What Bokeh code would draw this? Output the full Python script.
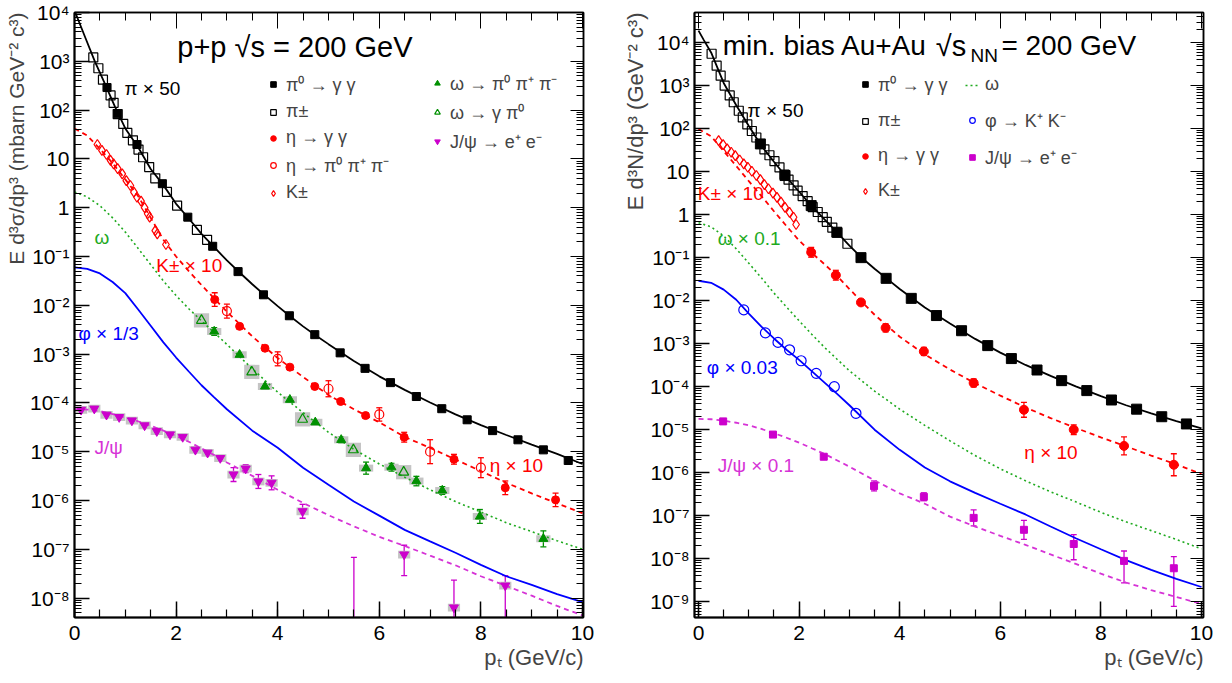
import numpy as np
from bokeh.plotting import figure
from bokeh.models import (Range1d, FixedTicker, CustomJSTickFormatter, LinearAxis, LogAxis,
                          Label, Legend, LegendItem, Whisker, TeeHead, ColumnDataSource, Title)
from bokeh.layouts import row
from bokeh.embed import file_html
from bokeh.resources import INLINE

FONT = "Liberation Sans"

# ---------------- common pT grid for fit curves ----------------
grid_pt = [0, 0.25, 0.5, 0.75, 1.0, 1.25, 1.5, 1.75, 2.0, 2.25, 2.5, 2.75, 3.0,
           3.5, 4.0, 4.5, 5.0, 5.5, 6.0, 6.5, 7.0, 7.5, 8.0, 8.5, 9.0, 9.5, 10.0]

# ================= p+p =================
pp_pi_fit_pt = [0, 0.2, 0.4, 0.6, 0.8, 1.0, 1.25, 1.5, 1.75, 2.0, 2.25, 2.5, 2.75, 3.0, 3.25,
                3.5, 3.75, 4.0, 4.25, 4.5, 4.75, 5.0, 5.5, 6.0, 6.5, 7.0, 7.5, 8.0, 8.5, 9.0, 9.5, 10.0]
pp_pi_fit_y = [1.1e4, 3.3e3, 1.0e3, 345, 115, 42, 17.5, 6.2, 2.9, 1.2, 0.6, 0.29, 0.155, 0.083, 0.047,
               0.027, 0.016, 9.6e-3, 5.9e-3, 3.7e-3, 2.4e-3, 1.6e-3, 7.2e-4, 3.5e-4, 1.85e-4, 1.02e-4,
               5.8e-5, 3.5e-5, 2.2e-5, 1.4e-5, 9.0e-6, 5.6e-6]
pp_eta_fit_y = [42, 30, 16, 8.2, 3.8, 1.75, 0.62, 0.22, 0.10, 0.05, 0.026, 0.0138, 7.4e-3,
                2.3e-3, 8.3e-4, 3.4e-4, 1.45e-4, 7.4e-5, 4.0e-5, 2.0e-5, 1.2e-5, 6.9e-6, 4.0e-6,
                2.3e-6, 1.4e-6, 8.7e-7, 5.5e-7]
pp_omega_fit_y = [2.1, 1.66, 1.1, 0.62, 0.316, 0.148, 0.068, 0.0316, 0.0158, 8.5e-3, 4.8e-3, 2.75e-3,
                  1.58e-3, 5.0e-4, 1.66e-4, 6.3e-5, 2.5e-5, 1.12e-5, 5.6e-6, 3.0e-6, 1.66e-6, 9.5e-7,
                  5.8e-7, 3.5e-7, 2.3e-7, 1.5e-7, 1.0e-7]
pp_phi_fit_y = [0.060, 0.056, 0.045, 0.030, 0.0178, 8.3e-3, 3.8e-3, 1.74e-3, 8.5e-4, 4.4e-4, 2.3e-4,
                1.3e-4, 7.4e-5, 2.7e-5, 1.2e-5, 4.7e-6, 2.1e-6, 9.5e-7, 4.9e-7, 2.5e-7, 1.45e-7,
                8.5e-8, 4.8e-8, 2.8e-8, 1.86e-8, 1.2e-8, 8.3e-9]
pp_jpsi_fit_y = [7.4e-5, 7.3e-5, 6.8e-5, 5.9e-5, 5.0e-5, 4.2e-5, 3.4e-5, 2.7e-5, 2.1e-5, 1.6e-5,
                 1.17e-5, 8.5e-6, 6.0e-6, 3.2e-6, 1.66e-6, 8.9e-7, 5.0e-7, 2.95e-7, 1.8e-7, 1.17e-7,
                 7.4e-8, 4.7e-8, 2.8e-8, 1.78e-8, 1.12e-8, 6.9e-9, 4.4e-9]

pp_pipm_pt = [0.37, 0.47, 0.56, 0.71, 0.77, 0.85, 0.96, 1.04, 1.15, 1.26, 1.35, 1.47, 1.59, 1.82,
              2.02, 2.41, 2.61]
pp_pipm_y = [1200, 720, 420, 200, 141, 83, 52, 34, 24, 15.5, 10.8, 6.8, 4.0, 2.1, 1.1, 0.35, 0.22]

pp_pi0_pt = [0.64, 0.85, 1.23, 1.73, 2.23, 2.72, 3.22, 3.72, 4.23, 4.73, 5.23, 5.72, 6.22, 6.73,
             7.23, 7.73, 8.23, 8.73, 9.23, 9.72]
pp_pi0_y = [290, 84, 19.7, 3.1, 0.64, 0.162, 0.049, 0.0164, 6.1e-3, 2.5e-3, 1.06e-3, 5.1e-4,
            2.6e-4, 1.35e-4, 7.6e-5, 4.5e-5, 2.7e-5, 1.75e-5, 1.09e-5, 6.6e-6]

pp_k_pt = [0.45, 0.54, 0.63, 0.71, 0.77, 0.85, 0.94, 1.02, 1.10, 1.17, 1.23, 1.31, 1.38, 1.44,
           1.48, 1.59, 1.63, 1.80]
pp_k_y = [19.7, 14.9, 12.3, 9.3, 7.9, 6.3, 4.95, 3.6, 2.85, 2.08, 1.64, 1.36, 1.0, 0.75, 0.64,
          0.34, 0.29, 0.176]

pp_eta_gg_pt = [2.76, 3.25, 3.75, 4.24, 4.73, 5.24, 5.73, 6.49, 7.47, 8.48, 9.47]
pp_eta_gg_y = [0.0131, 3.7e-3, 1.32e-3, 5.4e-4, 2.17e-4, 1.07e-4, 5.5e-5, 1.98e-5, 7.0e-6,
               1.82e-6, 1.03e-6]
pp_eta_gg_err = [0.38, 0.12, 0.1, 0.1, 0.1, 0.1, 0.12, 0.26, 0.26, 0.38, 0.38]

pp_eta_3pi_pt = [3.0, 4.0, 5.0, 6.0, 7.0, 8.0]
pp_eta_3pi_y = [7.6e-3, 8.0e-4, 1.95e-4, 5.8e-5, 1.0e-5, 4.7e-6]
pp_eta_3pi_err = [0.39, 0.39, 0.46, 0.37, 0.76, 0.6]

pp_omega_3pi_pt = [2.75, 3.25, 3.75, 4.24, 4.74, 5.25, 5.74, 6.24, 6.73, 7.24, 7.98, 9.23]
pp_omega_3pi_y = [2.9e-3, 9.7e-4, 2.17e-4, 1.16e-4, 4.0e-5, 1.75e-5, 4.6e-6, 4.8e-6, 2.5e-6,
                  1.6e-6, 4.7e-7, 1.64e-7]
pp_omega_3pi_err = [0.2, 0.1, 0.1, 0.1, 0.1, 0.15, 0.33, 0.2, 0.25, 0.2, 0.39, 0.46]

pp_omega_gpi_pt = [2.5, 3.49, 4.49, 5.49, 6.48]
pp_omega_gpi_y = [4.9e-3, 4.3e-4, 4.6e-5, 1.09e-5, 3.8e-6]
pp_omega_gpi_err = [0.2, 0.2, 0.2, 0.25, 0.25]

pp_jpsi_pt = [0.13, 0.39, 0.63, 0.88, 1.13, 1.38, 1.62, 1.88, 2.13, 2.38, 2.62, 2.87, 3.13, 3.37,
              3.62, 3.88, 4.49, 5.5, 6.49, 7.47, 8.48]
pp_jpsi_y = [7.2e-5, 7.6e-5, 5.7e-5, 5.1e-5, 4.35e-5, 3.45e-5, 2.63e-5, 2.25e-5, 2.0e-5, 1.09e-5,
             9.5e-6, 7.4e-6, 3.4e-6, 4.5e-6, 2.45e-6, 2.3e-6, 6.0e-7, 2.0e-9, 7.8e-8, 6.4e-9, 1.8e-8]
pp_jpsi_up = [0.1] * 12 + [0.39, 0.2, 0.39, 0.39, 0.39, 33.0, 0.55, 2.66, 0.6]
pp_jpsi_dn = [0.09] * 12 + [0.28, 0.17, 0.28, 0.28, 0.28, 0.5, 0.63, 0.99, 0.99]

# ================= Au+Au =================
auau_pi_fit_pt = [0, 0.1, 0.25, 0.5, 0.75, 1.0, 1.25, 1.5, 1.75, 2.0, 2.25, 2.5, 2.75, 3.0, 3.25,
                  3.5, 3.75, 4.0, 4.5, 5.0, 5.5, 6.0, 6.5, 7.0, 7.5, 8.0, 8.5, 9.0, 9.5, 10.0]
auau_pi_fit_y = [1.9e4, 1.17e4, 5.9e3, 1.15e3, 350, 115, 40, 17, 7.4, 3.4, 1.58, 0.79, 0.39, 0.19,
                 0.098, 0.055, 0.032, 0.0186, 6.9e-3, 2.95e-3, 1.29e-3, 6.2e-4, 3.2e-4, 1.78e-4,
                 1.02e-4, 6.0e-5, 3.7e-5, 2.4e-5, 1.58e-5, 1.07e-5]
auau_eta_fit_y = [98, 66, 30, 13.5, 6.0, 2.7, 1.2, 0.54, 0.25, 0.129, 0.071, 0.038, 0.0186, 4.7e-3,
                  1.45e-3, 5.6e-4, 2.5e-4, 1.2e-4, 6.2e-5, 3.3e-5, 1.86e-5, 1.1e-5, 6.6e-6, 4.1e-6,
                  2.5e-6, 1.55e-6, 9.3e-7]
auau_omega_fit_y = [0.65, 0.52, 0.32, 0.16, 0.074, 0.034, 0.015, 7.1e-3, 3.4e-3, 1.66e-3, 8.3e-4,
                    4.4e-4, 2.34e-4, 7.9e-5, 3.0e-5, 1.26e-5, 5.5e-6, 2.5e-6, 1.23e-6, 6.5e-7,
                    3.6e-7, 2.1e-7, 1.2e-7, 7.2e-8, 4.5e-8, 2.8e-8, 1.7e-8]
auau_phi_fit_y = [0.029, 0.026, 0.018, 0.0105, 5.0e-3, 2.5e-3, 1.32e-3, 7.2e-4, 4.2e-4, 2.3e-4,
                  1.26e-4, 6.9e-5, 3.7e-5, 1.0e-5, 3.4e-6, 1.32e-6, 6.3e-7, 3.4e-7, 1.9e-7, 1.07e-7,
                  5.6e-8, 3.0e-8, 1.66e-8, 9.3e-9, 5.5e-9, 3.4e-9, 2.2e-9]
auau_jpsi_fit_y = [1.78e-5, 1.75e-5, 1.62e-5, 1.45e-5, 1.26e-5, 1.04e-5, 8.3e-6, 6.5e-6, 5.0e-6,
                   3.7e-6, 2.75e-6, 1.95e-6, 1.38e-6, 6.6e-7, 3.3e-7, 1.9e-7, 9.5e-8, 5.6e-8, 3.4e-8,
                   2.1e-8, 1.26e-8, 7.6e-9, 4.5e-9, 2.8e-9, 1.86e-9, 1.29e-9, 8.9e-10]

auau_pipm_pt = [0.26, 0.36, 0.44, 0.52, 0.62, 0.70, 0.80, 0.88, 0.97, 1.06, 1.15, 1.31, 1.41, 1.51,
                1.61, 1.71, 1.79, 1.89, 1.97, 2.07, 2.17, 2.27, 2.37, 2.47, 2.55, 2.66, 2.76, 2.96]
auau_pipm_y = [5500, 2900, 1700, 1000, 590, 410, 260, 182, 125, 88, 62, 33, 24, 17.5, 12.5, 8.5,
               6.5, 4.8, 3.6, 2.7, 2.05, 1.5, 1.15, 0.87, 0.68, 0.5, 0.38, 0.21]

auau_pi0_pt = [1.23, 1.72, 2.24, 2.75, 3.23, 3.73, 4.23, 4.73, 5.23, 5.75, 6.22, 6.73, 7.22, 7.72,
               8.21, 8.71, 9.21, 9.70]
auau_pi0_y = [44, 8.1, 1.62, 0.39, 0.10, 0.033, 0.0113, 4.5e-3, 2.0e-3, 9.0e-4, 4.5e-4, 2.44e-4,
              1.38e-4, 8.1e-5, 4.9e-5, 3.0e-5, 2.0e-5, 1.36e-5]

auau_k_pt = [0.40, 0.49, 0.57, 0.65, 0.73, 0.82, 0.90, 0.98, 1.06, 1.15, 1.23, 1.31, 1.39, 1.48,
             1.56, 1.64, 1.72, 1.81, 1.89, 1.94]
auau_k_y = [52.6, 42.5, 33.7, 28.2, 23.6, 18.6, 15.1, 12.6, 10.2, 8.1, 6.5, 5.0, 4.0, 3.16, 2.51,
            1.95, 1.48, 1.13, 0.87, 0.59]

auau_eta_pt = [2.24, 2.73, 3.23, 3.72, 4.48, 5.47, 6.47, 7.46, 8.46, 9.45]
auau_eta_y = [0.133, 0.039, 9.1e-3, 2.33e-3, 6.6e-4, 1.22e-4, 2.9e-5, 1.0e-5, 4.2e-6, 1.53e-6]
auau_eta_err = [0.3, 0.3, 0.17, 0.24, 0.24, 0.24, 0.49, 0.3, 0.62, 0.8]

auau_phi_pt = [0.90, 1.33, 1.58, 1.81, 2.04, 2.34, 2.70, 3.13]
auau_phi_y = [6.1e-3, 1.78e-3, 1.07e-3, 7.2e-4, 4.0e-4, 2.04e-4, 1.0e-4, 2.4e-5]

auau_jpsi_pt = [0.49, 1.48, 2.49, 3.49, 4.48, 5.47, 6.47, 7.46, 8.46, 9.45]
auau_jpsi_y = [1.56e-5, 7.7e-6, 2.35e-6, 4.9e-7, 2.75e-7, 8.9e-8, 4.7e-8, 2.2e-8, 8.9e-9, 6.0e-9]
auau_jpsi_up = [0.08, 0.1, 0.12, 0.31, 0.24, 0.53, 0.66, 0.65, 0.7, 0.86]
auau_jpsi_dn = [0.07, 0.09, 0.11, 0.23, 0.19, 0.35, 0.40, 0.57, 0.69, 0.87]

# ---------------- colours ----------------
BLACK = "#000000"
RED = "#ff0000"
GREEN_M = "#009000"
GREEN_L = "#1faa1f"
BLUE = "#0000ff"
MAG = "#cc00cc"
MAG_L = "#d633d6"
GRAY = "#c4c4c4"

LOG_FMT = CustomJSTickFormatter(code="""
const e = Math.round(Math.log10(tick));
if (e === 0) { return "1"; }
if (e === 1) { return "10"; }
const m = {"-":"\u207b","0":"\u2070","1":"\u00b9","2":"\u00b2","3":"\u00b3","4":"\u2074",
           "5":"\u2075","6":"\u2076","7":"\u2077","8":"\u2078","9":"\u2079"};
let s = "";
for (const c of String(e)) { s += m[c]; }
return "10" + s;
""")
EMPTY_FMT = CustomJSTickFormatter(code="return '';")

FIG_H = 680


def make_fig(width, xr, yr, bl, br, ytitle, ytsize):
    p = figure(width=width, height=FIG_H, x_range=Range1d(*xr), y_range=Range1d(*yr),
               y_axis_type="log", output_backend="svg", toolbar_location=None,
               min_border_left=bl, min_border_right=br, min_border_top=12,
               min_border_bottom=FIG_H - 617)
    p.xgrid.visible = False
    p.ygrid.visible = False
    p.outline_line_color = BLACK
    p.outline_line_width = 1.5
    p.background_fill_color = "white"
    p.border_fill_color = "white"
    lo, hi = yr
    dec = list(range(int(np.floor(np.log10(lo))), int(np.ceil(np.log10(hi))) + 1))
    yt = FixedTicker(ticks=[10.0 ** k for k in dec],
                     minor_ticks=[m * 10.0 ** k for k in dec for m in range(2, 10)])
    xt = FixedTicker(ticks=[0, 2, 4, 6, 8, 10],
                     minor_ticks=[i * 0.5 for i in range(0, 21)])
    xa = p.xaxis[0]
    xa.ticker = xt
    ya = p.yaxis[0]
    ya.ticker = yt
    ya.formatter = LOG_FMT
    for ax, maj, mnr in ((xa, 16, 8), (ya, 15, 7)):
        ax.major_tick_in = maj
        ax.major_tick_out = 0
        ax.minor_tick_in = mnr
        ax.minor_tick_out = 0
        ax.axis_line_width = 2
        ax.major_tick_line_width = 1.5
        ax.minor_tick_line_width = 1.2
        ax.major_label_text_font = FONT
        ax.major_label_text_font_size = "21px"
        ax.major_label_text_color = BLACK
    xa.major_label_standoff = 8
    ya.major_label_standoff = 5
    top = LinearAxis(ticker=xt, formatter=EMPTY_FMT, major_tick_in=16, major_tick_out=0,
                     minor_tick_in=8, minor_tick_out=0, major_label_standoff=0,
                     major_label_text_font_size="1px", axis_line_width=1.5)
    right = LogAxis(ticker=yt, formatter=EMPTY_FMT, major_tick_in=13, major_tick_out=0,
                    minor_tick_in=7, minor_tick_out=0, major_label_standoff=0,
                    major_label_text_font_size="1px", axis_line_width=1.5)
    p.add_layout(top, "above")
    p.add_layout(right, "right")
    p.add_layout(Title(text=ytitle, align="right", text_font=FONT, text_font_size=f"{ytsize}px",
                       text_font_style="normal", standoff=0), "left")
    p.add_layout(Title(text="p\u209c (GeV/c)", align="right", text_font=FONT,
                       text_font_size="22px", text_font_style="normal", standoff=0), "below")
    return p


def lab(p, x, y, text, size, color=BLACK, align="left", baseline="middle"):
    p.add_layout(Label(x=x, y=y, text=text, text_font=FONT, text_font_size=f"{size}px",
                       text_color=color, text_align=align, text_baseline=baseline))


def boxes(p, xs, ys, hw, fac, color=GRAY):
    xs = np.asarray(xs, float)
    ys = np.asarray(ys, float)
    p.quad(left=xs - hw, right=xs + hw, bottom=ys / fac, top=ys * fac,
           fill_color=color, line_color=None)


def errs(p, xs, ys, up, dn, color):
    xs = np.asarray(xs, float)
    ys = np.asarray(ys, float)
    up = np.asarray(up, float)
    dn = np.asarray(dn, float)
    src = ColumnDataSource(dict(x=xs, hi=ys * (1 + up), lo=ys * (1 - dn)))
    w = Whisker(source=src, base="x", upper="hi", lower="lo", dimension="height",
                line_color=color, line_width=1.3,
                upper_head=TeeHead(size=6, line_color=color, line_width=1.3),
                lower_head=TeeHead(size=6, line_color=color, line_width=1.3))
    p.add_layout(w)


def sym(e):
    e = np.asarray(e, float)
    return e, 1 - 1 / (1 + e)


def legend(p, items, loc, spacing):
    lg = Legend(items=items, location=loc, orientation="vertical",
                background_fill_alpha=0, border_line_alpha=0,
                label_text_font=FONT, label_text_font_size="18px",
                glyph_width=14, glyph_height=14, label_height=14, label_standoff=6,
                spacing=spacing, padding=0, margin=0)
    p.add_layout(lg)


# =================== LEFT PANEL ===================
p1 = make_fig(620, (0, 10.02), (4e-9, 1e4), 74, 37, "E d³σ/dp³ (mbarn GeV⁻² c³)", 21)


def lx(px):
    return (px - 74) / 50.9


def ly(py):
    return 10 ** (4 - (py - 12) / 48.8)


boxes(p1, pp_pi0_pt, pp_pi0_y, 0.09, 1.22)
boxes(p1, pp_omega_3pi_pt, pp_omega_3pi_y, 0.14, 1.18)
boxes(p1, pp_omega_gpi_pt, pp_omega_gpi_y, 0.15, 1.4)
jb = [i for i in range(len(pp_jpsi_pt)) if pp_jpsi_y[i] > 4e-9]
boxes(p1, [pp_jpsi_pt[i] for i in jb], [pp_jpsi_y[i] for i in jb], 0.12, 1.2)

p1.line(pp_pi_fit_pt, pp_pi_fit_y, line_color=BLACK, line_width=1.8)
p1.line(grid_pt, pp_eta_fit_y, line_color=RED, line_width=1.8, line_dash="5 4")
p1.line(grid_pt, pp_omega_fit_y, line_color=GREEN_L, line_width=1.6, line_dash="2 3")
p1.line(grid_pt, pp_phi_fit_y, line_color=BLUE, line_width=1.8)
p1.line(grid_pt, pp_jpsi_fit_y, line_color=MAG_L, line_width=1.8, line_dash="5 4")

errs(p1, pp_eta_gg_pt, pp_eta_gg_y, *sym(pp_eta_gg_err), RED)
errs(p1, pp_eta_3pi_pt, pp_eta_3pi_y, *sym(pp_eta_3pi_err), RED)
errs(p1, pp_omega_3pi_pt, pp_omega_3pi_y, *sym(pp_omega_3pi_err), GREEN_M)
errs(p1, pp_omega_gpi_pt, pp_omega_gpi_y, *sym(pp_omega_gpi_err), GREEN_M)
errs(p1, pp_jpsi_pt, pp_jpsi_y, pp_jpsi_up, pp_jpsi_dn, MAG)

r_pi0 = p1.scatter(pp_pi0_pt, pp_pi0_y, marker="square", size=8, fill_color=BLACK, line_color=BLACK)
r_pipm = p1.scatter(pp_pipm_pt, pp_pipm_y, marker="square", size=9, fill_alpha=0,
                    line_color=BLACK, line_width=1.2)
r_eta = p1.scatter(pp_eta_gg_pt, pp_eta_gg_y, marker="circle", size=8, fill_color=RED, line_color=RED)
r_eta3 = p1.scatter(pp_eta_3pi_pt, pp_eta_3pi_y, marker="circle", size=9, fill_alpha=0,
                    line_color=RED, line_width=1.2)
r_k = p1.scatter(pp_k_pt, pp_k_y, marker="diamond", size=10, fill_alpha=0, line_color=RED, line_width=1.2)
r_om3 = p1.scatter(pp_omega_3pi_pt, pp_omega_3pi_y, marker="triangle", size=9,
                   fill_color=GREEN_M, line_color=GREEN_M)
r_omg = p1.scatter(pp_omega_gpi_pt, pp_omega_gpi_y, marker="triangle", size=10, fill_alpha=0,
                   line_color=GREEN_M, line_width=1.2)
r_jp = p1.scatter(pp_jpsi_pt, pp_jpsi_y, marker="inverted_triangle", size=9,
                  fill_color=MAG, line_color=MAG)

legend(p1, [LegendItem(label="π⁰ → γ γ", renderers=[r_pi0]),
            LegendItem(label="π±", renderers=[r_pipm]),
            LegendItem(label="η → γ γ", renderers=[r_eta]),
            LegendItem(label="η → π⁰ π⁺ π⁻", renderers=[r_eta3]),
            LegendItem(label="K±", renderers=[r_k])], (192, 414), 5)
legend(p1, [LegendItem(label="ω → π⁰ π⁺ π⁻", renderers=[r_om3]),
            LegendItem(label="ω → γ π⁰", renderers=[r_omg]),
            LegendItem(label="J/ψ → e⁺ e⁻", renderers=[r_jp])], (356, 464), 5)

lab(p1, lx(177), ly(47), "p+p  √s = 200 GeV", 29)
lab(p1, lx(124), ly(88), "π × 50", 19)
lab(p1, lx(156), ly(265), "K± × 10", 19, RED)
lab(p1, lx(94), ly(237), "ω", 19, GREEN_L)
lab(p1, lx(78), ly(333), "φ × 1/3", 19, BLUE)
lab(p1, lx(94), ly(447), "J/ψ", 19, MAG_L)
lab(p1, lx(490), ly(465), "η × 10", 19, RED)

# =================== RIGHT PANEL ===================
p2 = make_fig(604, (-0.08, 10.04), (4.3e-10, 5e4), 72, 21, "E d³N/dp³ (GeV⁻² c³)", 22)


def rx(px):
    return (px - 695.7) / 50.53


def ry(py):
    return 10 ** (4 - (py - 42) / 43)


p2.line(auau_pi_fit_pt, auau_pi_fit_y, line_color=BLACK, line_width=1.8)
p2.line(grid_pt, auau_eta_fit_y, line_color=RED, line_width=1.8, line_dash="5 4")
r_omline = p2.line(grid_pt, auau_omega_fit_y, line_color=GREEN_L, line_width=1.6, line_dash="2 3")
p2.line(grid_pt, auau_phi_fit_y, line_color=BLUE, line_width=1.8)
p2.line(grid_pt, auau_jpsi_fit_y, line_color=MAG_L, line_width=1.8, line_dash="5 4")

errs(p2, auau_eta_pt, auau_eta_y, *sym(auau_eta_err), RED)
errs(p2, auau_jpsi_pt, auau_jpsi_y, auau_jpsi_up, auau_jpsi_dn, MAG)

q_pipm = p2.scatter(auau_pipm_pt, auau_pipm_y, marker="square", size=9, fill_alpha=0,
                    line_color=BLACK, line_width=1.2)
q_pi0 = p2.scatter(auau_pi0_pt, auau_pi0_y, marker="square", size=10, fill_color=BLACK,
                   line_color=BLACK)
q_k = p2.scatter(auau_k_pt, auau_k_y, marker="diamond", size=10, fill_alpha=0, line_color=RED,
                 line_width=1.2)
q_eta = p2.scatter(auau_eta_pt, auau_eta_y, marker="circle", size=9, fill_color=RED, line_color=RED)
q_phi = p2.scatter(auau_phi_pt, auau_phi_y, marker="circle", size=10, fill_alpha=0,
                   line_color=BLUE, line_width=1.2)
q_jp = p2.scatter(auau_jpsi_pt, auau_jpsi_y, marker="square", size=7, fill_color=MAG, line_color=MAG)

legend(p2, [LegendItem(label="π⁰ → γ γ", renderers=[q_pi0]),
            LegendItem(label="π±", renderers=[q_pipm]),
            LegendItem(label="η → γ γ", renderers=[q_eta]),
            LegendItem(label="K±", renderers=[q_k])], (164, 416), 14)
legend(p2, [LegendItem(label="ω", renderers=[r_omline]),
            LegendItem(label="φ → K⁺ K⁻", renderers=[q_phi]),
            LegendItem(label="J/ψ → e⁺ e⁻", renderers=[q_jp])], (271, 448), 13)

lab(p2, rx(720), ry(45), "min. bias Au+Au", 28)
lab(p2, rx(934), ry(45), "√s", 29)
lab(p2, rx(969), ry(55), "NN", 19)
lab(p2, rx(1000), ry(45), "= 200 GeV", 28)
lab(p2, rx(745), ry(110), "π × 50", 19)
lab(p2, rx(695), ry(193), "K± × 10", 19, RED)
lab(p2, rx(715), ry(238), "ω × 0.1", 19, GREEN_L)
lab(p2, rx(704), ry(367), "φ × 0.03", 19, BLUE)
lab(p2, rx(715), ry(465), "J/ψ × 0.1", 19, MAG_L)
lab(p2, rx(1023), ry(452), "η × 10", 19, RED)

layout = row(p1, p2)
open("out.html", "w").write(file_html(layout, INLINE))
